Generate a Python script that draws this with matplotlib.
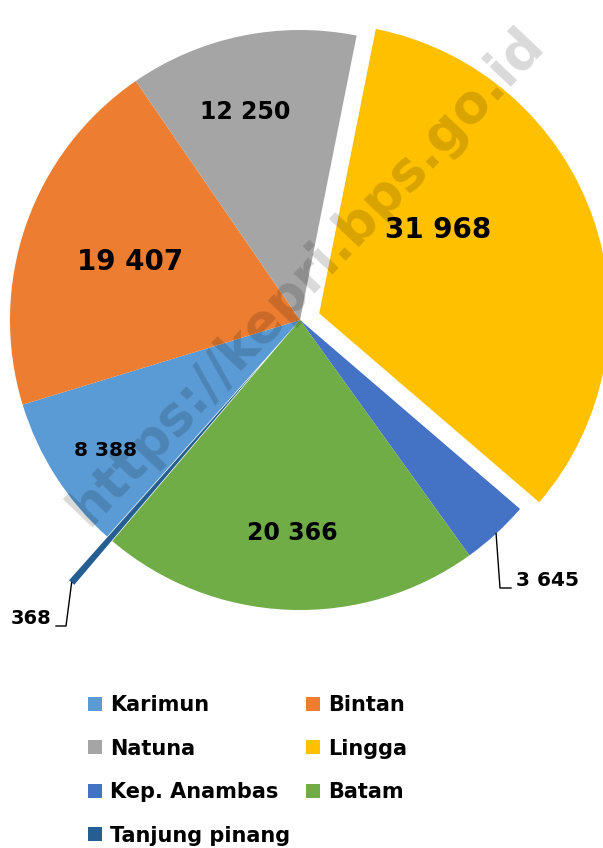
import matplotlib
matplotlib.use('Agg')
import numpy as np
from matplotlib import pyplot as plt
from matplotlib.patches import Patch

plt.rcParams['font.family'] = ['DejaVu Sans']

# data
regions = ['Karimun', 'Bintan', 'Natuna', 'Lingga', 'Kep. Anambas', 'Batam', 'Tanjung pinang']
values = [8388, 19407, 12250, 31968, 3645, 20366, 368]
labels = ['8 388', '19 407', '12 250', '31 968', '3 645', '20 366', '368']
colors = ['#5B9BD5', '#ED7D31', '#A5A5A5', '#FFC000', '#4472C4', '#70AD47', '#255E91']
explode = [0, 0, 0, 0.07, 0, 0, 0.2]

W, H = 603, 848
CX, CY, R = 300, 320, 290   # pie centre / radius in pixels


def px(x, y):
    # pixel position -> data coords (radius = 1)
    return (x - CX) / R, (CY - y) / R


fig = plt.figure(figsize=(W / 100, H / 100), dpi=100)
ax = fig.add_axes([0, 0, 1, 1])
wedges, _ = ax.pie(values, colors=colors, explode=explode, startangle=228.3,
                   counterclock=False, radius=1, wedgeprops=dict(linewidth=0))
x0, y1 = px(0, 0)
x1, y0 = px(W, H)
ax.set_xlim(x0, x1)
ax.set_ylim(y0, y1)
ax.set_aspect('auto')
ax.axis('off')

# value labels inside slices
inside = {0: ((105, 451), 14.5), 1: ((130, 262), 20), 2: ((245, 112), 17),
          3: ((438, 230), 20), 5: ((292, 533), 17)}
for i, (pos, fs) in inside.items():
    ax.text(*px(*pos), labels[i], ha='center', va='center', fontsize=fs,
            fontweight='bold', color='black', zorder=5)


def edge_point(w, extra=0.0):
    mid = np.deg2rad((w.theta1 + w.theta2) / 2)
    cx, cy = w.center
    return cx + (w.r + extra) * np.cos(mid), cy + (w.r + extra) * np.sin(mid)


# leader labels for the small slices
ax_, ay_ = edge_point(wedges[4])
bx, by = px(500, 588)
cx_, cy_ = px(511, 588)
ax.plot([ax_, bx, cx_], [ay_, by, cy_], color='black', lw=1)
ax.text(*px(516, 581), labels[4], ha='left', va='center', fontsize=14.5, fontweight='bold')

tx, ty = edge_point(wedges[6])
bx, by = px(66, 626)
cx_, cy_ = px(56, 626)
ax.plot([tx, bx, cx_], [ty, by, cy_], color='black', lw=1)
ax.text(*px(51, 619), labels[6], ha='right', va='center', fontsize=14, fontweight='bold')

# watermark
ax.text(*px(306, 276), 'https://kepri.bps.go.id', rotation=46.5, ha='center', va='center',
        fontsize=38, fontweight='bold', color='black', alpha=0.15, zorder=6)

# legend, two columns in row order
handles = [Patch(facecolor=c, edgecolor='none') for c in colors]
left_idx = [0, 2, 4, 6]
right_idx = [1, 3, 5]
common = dict(loc='upper left', frameon=False, borderpad=0, borderaxespad=0,
              handlelength=0.65, handleheight=0.65, handletextpad=0.4, labelspacing=1.13,
              prop=dict(weight='bold', size=15))
for idx, xpos in ((left_idx, 88), (right_idx, 306)):
    fig.legend([handles[i] for i in idx], [regions[i] for i in idx],
               bbox_to_anchor=(xpos / W, 1 - 695 / H), **common)

fig.savefig('out.png', dpi=100)
